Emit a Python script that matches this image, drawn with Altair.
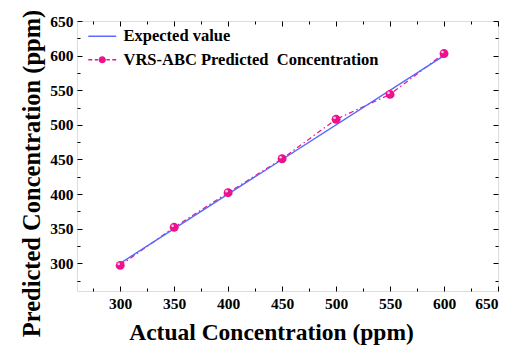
import altair as alt
import pandas as pd

# ---- data ----
actual = [300, 350, 400, 450, 500, 550, 600]
predicted = [297, 352, 402, 451, 508, 544, 603]
expected_x = [300, 600]
expected_y = [300, 600]
series = ["Expected value", "VRS-ABC Predicted\u00a0 Concentration"]
major_ticks = [300, 350, 400, 450, 500, 550, 600, 650]
minor_ticks = [275, 325, 375, 425, 475, 525, 575, 625]

BLUE = "#5468ff"
PINK = "#ee118b"
FONT = "Liberation Serif"
W, H = 421, 270

df_exp = pd.DataFrame({"x": expected_x, "y": expected_y, "series": series[0]})
df_pred = pd.DataFrame({"x": actual, "y": predicted, "series": series[1]})

xs = alt.Scale(domain=[260, 650], nice=False, zero=False)
ys = alt.Scale(domain=[260, 650], nice=False, zero=False)


def tick_axis(orient, values, size, offset):
    return alt.Axis(orient=orient, values=values, labels=False, ticks=True,
                    tickSize=size, tickColor="black", tickWidth=1,
                    domain=False, grid=False, title=None, offset=offset)


main_x = alt.Axis(orient="bottom", values=major_ticks, ticks=False, tickSize=0,
                  domain=False, grid=False, title="Actual Concentration (ppm)",
                  labelFont=FONT, labelFontWeight="bold", labelFontSize=15.5,
                  labelColor="black", labelPadding=5,
                  titleFont=FONT, titleFontWeight="bold", titleFontSize=23.5,
                  titleColor="black", titlePadding=9, titleX=194, titleAlign="center")
main_y = alt.Axis(orient="left", values=major_ticks, ticks=False, tickSize=0,
                  domain=False, grid=False, title="Predicted Concentration (ppm)",
                  labelFont=FONT, labelFontWeight="bold", labelFontSize=15.5,
                  labelColor="black", labelPadding=4,
                  titleFont=FONT, titleFontWeight="bold", titleFontSize=24.5,
                  titleColor="black", titlePadding=5, titleY=152, titleAlign="center")

# dashed predicted line (carries bottom/left major inward ticks)
dashed = alt.Chart(df_pred).mark_line(color=PINK, strokeWidth=1.2,
                                      strokeDash=[5, 3, 1.5, 3]).encode(
    x=alt.X("x:Q", scale=xs, axis=tick_axis("top", major_ticks, 5, -H)),
    y=alt.Y("y:Q", scale=ys, axis=tick_axis("right", major_ticks, 5, -W)),
)

# expected straight line (carries labelled axes)
exp_line = alt.Chart(df_exp).mark_line(color=BLUE, strokeWidth=1.4).encode(
    x=alt.X("x:Q", scale=xs, axis=main_x),
    y=alt.Y("y:Q", scale=ys, axis=main_y),
)

# points (bottom/left minor ticks)
points = alt.Chart(df_pred).mark_circle(size=80, color=PINK, opacity=1).encode(
    x=alt.X("x:Q", scale=xs, axis=tick_axis("top", minor_ticks, 3, -H)),
    y=alt.Y("y:Q", scale=ys, axis=tick_axis("right", minor_ticks, 3, -W)),
)

# highlight on spheres (top/right minor ticks)
shine = alt.Chart(df_pred).mark_circle(size=7, color="white", opacity=0.75,
                                       xOffset=-1.5, yOffset=-1.5).encode(
    x=alt.X("x:Q", scale=xs, axis=tick_axis("bottom", minor_ticks, 3, -H)),
    y=alt.Y("y:Q", scale=ys, axis=tick_axis("left", minor_ticks, 3, -W)),
)

# invisible layer that only produces the legend (top/right major ticks)
line_sym = "M-2.33,-0.12H2.33V0.12H-2.33Z"
dash_dot_sym = ("M-2.33,-0.12H-1.67V0.12H-2.33Z "
                "M-1.25,-0.12H-0.7V0.12H-1.25Z "
                "M-0.6,0A0.6,0.6 0 1,0 0.6,0A0.6,0.6 0 1,0 -0.6,0Z "
                "M0.7,-0.12H1.25V0.12H0.7Z "
                "M1.67,-0.12H2.33V0.12H1.67Z")
legend_df = pd.DataFrame({"x": actual[:2], "y": predicted[:2], "series": series})
legend_layer = alt.Chart(legend_df).mark_point(filled=True, opacity=0, strokeWidth=0).encode(
    x=alt.X("x:Q", scale=xs, axis=tick_axis("bottom", major_ticks, 5, -H)),
    y=alt.Y("y:Q", scale=ys, axis=tick_axis("left", major_ticks, 5, -W)),
    color=alt.Color("series:N", scale=alt.Scale(domain=series, range=[BLUE, PINK]),
                    legend=alt.Legend(orient="none", legendX=17, legendY=7, title=None,
                                      labelFont=FONT, labelFontWeight="bold",
                                      labelFontSize=16.5, labelColor="black",
                                      labelLimit=0,
                                      symbolSize=144, labelOffset=13, rowPadding=6.5,
                                      padding=0, symbolStrokeWidth=0)),
    shape=alt.Shape("series:N", scale=alt.Scale(domain=series, range=[line_sym, dash_dot_sym]),
                    legend=None),
)

chart = alt.layer(dashed, exp_line, points, shine, legend_layer).resolve_axis(
    x="independent", y="independent"
).properties(
    width=W, height=H,
    autosize=alt.AutoSizeParams(type="none"),
    padding={"left": 69, "top": 13, "right": 19, "bottom": 58},
).configure_view(stroke="black", strokeWidth=1).configure(background="white")

chart.save("out.html", embed_options={"renderer": "svg", "actions": False})
